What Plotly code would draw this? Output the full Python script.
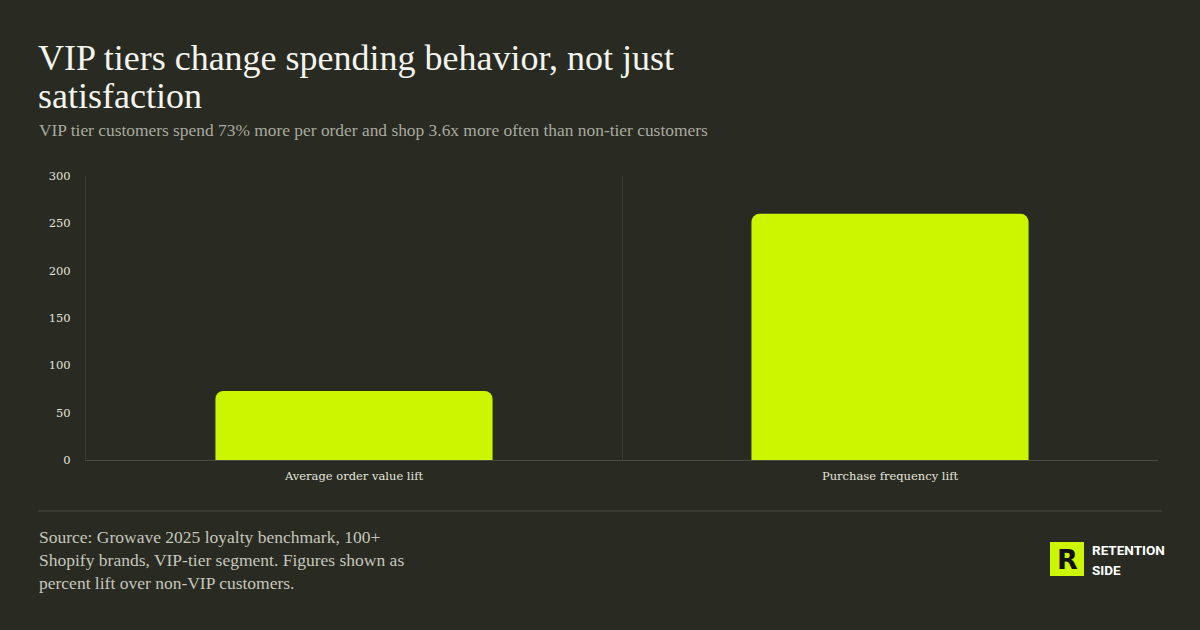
import plotly.graph_objects as go

categories = ["Average order value lift", "Purchase frequency lift"]
lift_values = [73, 260]
y_ticks = [0, 50, 100, 150, 200, 250, 300]

title_lines = ["VIP tiers change spending behavior, not just", "satisfaction"]
subtitle_text = "VIP tier customers spend 73% more per order and shop 3.6x more often than non-tier customers"
source_text = ("Source: Growave 2025 loyalty benchmark, 100+<br>"
               "Shopify brands, VIP-tier segment. Figures shown as<br>"
               "percent lift over non-VIP customers.")
logo_lines = ["RETENTION", "SIDE"]

BG = "#292b22"
LIME = "#ccf500"
GRID = "#3a3c33"
AXIS = "#4a4c43"
SERIF = "Liberation Serif, DejaVu Serif, serif"

L, T, PW, PH = 86, 176, 1072, 284


def px(x):
    return (x - L) / PW


def py(y):
    return 1 - (y - T) / PH


fig = go.Figure()
fig.add_trace(go.Bar(
    x=categories, y=lift_values,
    marker=dict(color=LIME, cornerradius=8, line=dict(width=0)),
    hoverinfo="skip",
))

fig.update_layout(
    width=1200, height=630,
    paper_bgcolor=BG, plot_bgcolor=BG,
    margin=dict(l=L, r=1200 - L - PW, t=T, b=630 - T - PH),
    bargap=0.483,
    showlegend=False,
    font=dict(family=SERIF, color="#d6d6ce"),
)
fig.update_xaxes(
    type="category", tickson="boundaries", showgrid=True, gridcolor=GRID, gridwidth=1,
    showline=True, linecolor=AXIS, linewidth=1, ticks="", ticklen=0, ticklabelstandoff=5,
    tickfont=dict(family="DejaVu Serif, serif", size=11.5, color="#e4e4dc"),
    zeroline=False,
)
fig.update_yaxes(
    range=[0, 300], tickvals=y_ticks, showgrid=False, zeroline=False,
    showline=True, linecolor=GRID, linewidth=1, ticks="", ticklabelstandoff=12,
    tickfont=dict(family="DejaVu Serif, serif", size=11.5, color="#e4e4dc"),
)

# Title lines
for i, line in enumerate(title_lines):
    fig.add_annotation(text=line, xref="paper", yref="paper", x=px(36), y=py(36 + 38 * i),
                       showarrow=False, xanchor="left", yanchor="top", align="left",
                       font=dict(family=SERIF, size=36, color="#f4f4ee"))
fig.add_annotation(text=subtitle_text, xref="paper", yref="paper",
                   x=px(37), y=py(118), showarrow=False,
                   xanchor="left", yanchor="top", align="left",
                   font=dict(family=SERIF, size=17.4, color="#a8a99f"))
fig.add_annotation(text=source_text, xref="paper", yref="paper",
                   x=px(37), y=py(525), showarrow=False,
                   xanchor="left", yanchor="top", align="left",
                   font=dict(family=SERIF, size=17.5, color="#c6c6bd"))

# footer separator
fig.add_shape(type="line", xref="paper", yref="paper",
              x0=px(38), x1=px(1162), y0=py(511), y1=py(511),
              line=dict(color=GRID, width=2))

# logo
fig.add_shape(type="rect", xref="paper", yref="paper",
              x0=px(1050), x1=px(1084), y0=py(576), y1=py(542),
              fillcolor=LIME, line=dict(width=0))
fig.add_annotation(text="<b>R</b>", xref="paper", yref="paper",
                   x=px(1067), y=py(559), showarrow=False,
                   xanchor="center", yanchor="middle",
                   font=dict(family="DejaVu Sans, sans-serif", size=27, color="#111111"))
for i, line in enumerate(logo_lines):
    fig.add_annotation(text="<b>%s</b>" % line, xref="paper", yref="paper",
                       x=px(1090), y=py(550 + 20 * i), showarrow=False,
                       xanchor="left", yanchor="middle", align="left",
                       font=dict(family="Roboto, sans-serif", size=13.5, color="#ffffff"))

fig.write_html("out.html", config={"displayModeBar": False},
               post_script="document.body.style.margin='0';")
